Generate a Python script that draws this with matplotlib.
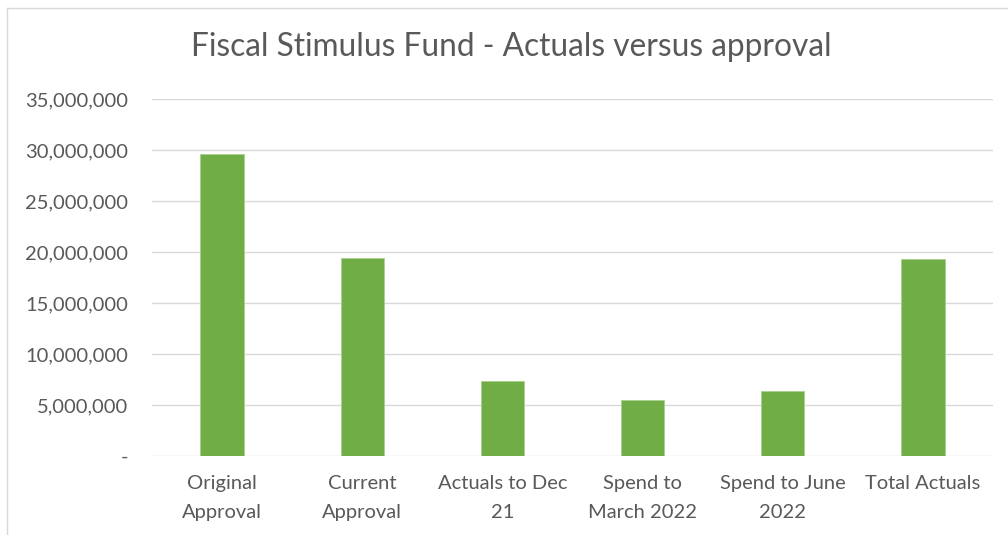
import matplotlib.pyplot as plt
from matplotlib.ticker import FuncFormatter
from matplotlib.lines import Line2D

categories = ["Original\nApproval", "Current\nApproval", "Actuals to Dec\n21",
              "Spend to\nMarch 2022", "Spend to June\n2022", "Total Actuals"]
values = [29580000, 19440000, 7310000, 5490000, 6400000, 19280000]

plt.rcParams['font.family'] = ['Lato', 'DejaVu Sans']

fig = plt.figure(figsize=(10.08, 5.35), dpi=100)
ax = fig.add_axes([152 / 1008, 1 - 456 / 535, (993 - 152) / 1008, (456 - 99) / 535])

x = range(len(categories))
ax.bar(x, values, width=0.31, color='#70ad47', edgecolor='#a9d18e', linewidth=0.6, zorder=3)

ax.set_xlim(-0.5, len(categories) - 0.5)
ax.set_ylim(0, 35000000)
ax.set_yticks(range(0, 35000001, 5000000))
ax.yaxis.set_major_formatter(FuncFormatter(lambda v, p: '-' if v == 0 else f'{int(v):,}'))
ax.set_xticks(list(x))
ax.set_xticklabels(categories, linespacing=1.8)
ax.grid(axis='y', color='#d9d9d9', linewidth=1, zorder=0)
for s in ax.spines.values():
    s.set_visible(False)
ax.tick_params(axis='both', length=0, labelsize=14.5, colors='#595959')
ax.tick_params(axis='y', pad=17)
ax.tick_params(axis='x', pad=14)

fig.text(511 / 1008, 1 - 47 / 535, 'Fiscal Stimulus Fund - Actuals versus approval',
         ha='center', va='center', fontsize=22.8, color='#595959')

fig.add_artist(Line2D([7 / 1008, 7 / 1008], [0, 1 - 8 / 535], color='#d9d9d9', linewidth=1))
fig.add_artist(Line2D([7 / 1008, 1], [1 - 8 / 535, 1 - 8 / 535], color='#d9d9d9', linewidth=1))

fig.savefig('out.png', dpi=100)
